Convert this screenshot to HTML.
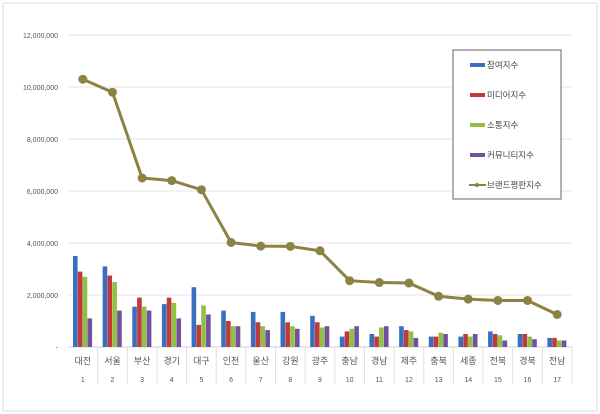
<!DOCTYPE html>
<html><head><meta charset="utf-8"><style>
body{margin:0;background:#fff;}
svg{display:block;font-family:"Liberation Sans","Noto Sans CJK KR",sans-serif;}
</style></head><body>
<svg id="c" width="600" height="414">
<rect x="3" y="3" width="594" height="408" fill="#fff" stroke="#ddd"/>
<g id="grid"></g><g id="bars"></g><g id="line"></g><g id="axis"></g>
<g>
<rect x="453" y="50" width="108" height="149" fill="#fff" stroke="#666"/>
<g id="leg"></g>
</g>
</svg>
<script>
const categories=["대전","서울","부산","경기","대구","인천","울산","강원","광주","충남","경남","제주","충북","세종","전북","경북","전남"];
const participation=[3.5,3.1,1.55,1.65,2.3,1.4,1.35,1.35,1.2,0.4,0.5,0.8,0.4,0.4,0.6,0.5,0.35];
const media=[2.9,2.75,1.9,1.9,0.85,1.0,0.95,0.95,0.95,0.6,0.4,0.65,0.4,0.5,0.5,0.5,0.35];
const communication=[2.7,2.5,1.55,1.7,1.6,0.8,0.8,0.8,0.75,0.7,0.75,0.6,0.55,0.4,0.45,0.4,0.25];
const community=[1.1,1.4,1.4,1.1,1.25,0.8,0.65,0.7,0.8,0.8,0.8,0.35,0.5,0.5,0.25,0.3,0.25];
const brandIndex=[10.3,9.8,6.5,6.4,6.05,4.02,3.88,3.87,3.7,2.55,2.48,2.46,1.95,1.84,1.79,1.79,1.25];
const yTicks=[0,2,4,6,8,10,12];
const yTickLabels=["-","2,000,000","4,000,000","6,000,000","8,000,000","10,000,000","12,000,000"];
const seriesNames=["참여지수","미디어지수","소통지수","커뮤니티지수"];
const colors=["#3a6fc0","#c0393b","#92bf45","#7250a0"];
const NS="http://www.w3.org/2000/svg";
const X0=68,X1=572,Y0=347,Y1=35;
const bw=(X1-X0)/categories.length;
const y=v=>Y0-(v/12)*(Y0-Y1);
const xc=i=>X0+bw*(i+0.5);
function mk(p,t,a){const e=document.createElementNS(NS,t);for(const k in a)e.setAttribute(k,a[k]);p.appendChild(e);return e;}
const G=id=>document.getElementById(id);
yTicks.forEach((t,i)=>{
 const l=mk(G('grid'),'line',{x1:X0,x2:X1,y1:y(t),y2:y(t),stroke:i?'#e3e3e3':'#d0d0d0'});
 
 
 const tx=mk(G('axis'),'text',{x:58,y:y(t)+3,'text-anchor':'end','font-size':'7',fill:'#555'});
 tx.textContent=yTickLabels[i];
 
 
});
const series=[participation,media,communication,community];
categories.forEach((c,i)=>{
 const sx=X0+bw*(i+1);
 const s=mk(G('axis'),'line',{x1:sx,x2:sx,y1:Y0,y2:384,stroke:'#e0e0e0'});
 
 
 const t=mk(G('axis'),'text',{x:xc(i),y:364,'text-anchor':'middle','font-size':'9',fill:'#555'});
 t.textContent=c;
 
 
 const n=mk(G('axis'),'text',{x:xc(i),y:382,'text-anchor':'middle','font-size':'7',fill:'#555'});
 n.textContent=String(i+1);
 
 
 series.forEach((arr,k)=>{
  const w=4.6,x=X0+bw*i+5+k*w*1.05;
  const r=mk(G('bars'),'rect',{x:x,y:y(arr[i]),width:w,height:Y0-y(arr[i]),fill:colors[k]});
  
  
 });
});
const pl=mk(G('line'),'polyline',{points:brandIndex.map((v,i)=>xc(i)+','+y(v)).join(' '),fill:'none',stroke:'#8c8244','stroke-width':'3'});


brandIndex.forEach((v,i)=>{
 const c=mk(G('line'),'circle',{cx:xc(i),cy:y(v),r:4.5,fill:'#8c8244'});
 
 
});
const lg=G('leg');
seriesNames.concat(["브랜드평판지수"]).forEach((nm,k)=>{
 const yy=65+k*30;
 if(k<4){const r=mk(lg,'rect',{x:470,y:yy-2,width:15,height:4,fill:colors[k]});
  
  }
 else{mk(lg,'line',{x1:469,x2:486,y1:yy,y2:yy,stroke:'#8c8244','stroke-width':'2'});
  const c=mk(lg,'circle',{cx:477,cy:yy,r:2,fill:'#8c8244'});
  
  }
 const t=mk(lg,'text',{x:487,y:yy+3,'font-size':'8.5',fill:'#444'});
 t.textContent=nm;
 
 
});
</script>
</body></html>
